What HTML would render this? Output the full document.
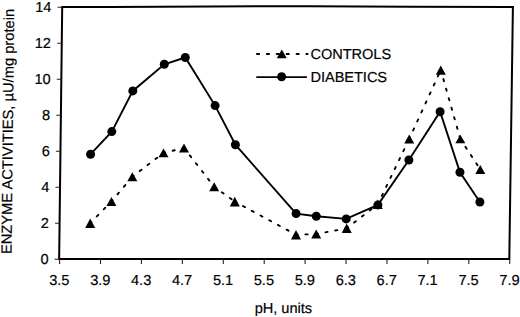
<!DOCTYPE html>
<html><head><meta charset="utf-8"><style>
html,body{margin:0;padding:0;background:#fff;}
body{width:520px;height:317px;overflow:hidden;font-family:"Liberation Sans",sans-serif;}
svg{display:block;}
</style></head><body>
<svg width="520" height="317" viewBox="0 0 520 317">
<rect width="520" height="317" fill="#fff"/>
<g stroke="#000" stroke-width="2.0" fill="none" stroke-linecap="square">
<path d="M62.2,7.0 L110,6.9 L210,6.4 L310,6.15 L410,6.8 L512.9,7.0 L509.3,258.9 L59.15,258.9 Z"/>
</g>
<path d="M59.60,259V264 M100.52,259V264 M141.44,259V264 M182.36,259V264 M223.28,259V264 M264.20,259V264 M305.12,259V264 M346.04,259V264 M386.96,259V264 M427.88,259V264 M468.80,259V264 M509.72,259V264 M54.60,259.20H59.20 M55.03,223.20H59.63 M55.46,187.20H60.06 M55.89,151.20H60.49 M56.31,115.20H60.91 M56.74,79.20H61.34 M57.17,43.20H61.77 M57.60,7.20H62.20" stroke="#222" stroke-width="1.1" fill="none"/>
<path fill="none" stroke="#000" stroke-width="1.9" stroke-dasharray="2.2 7.7" stroke-dashoffset="0.5" stroke-linecap="round" d="M90.20,223.15L111.40,201.50 M111.40,201.50L132.30,176.80 M132.30,176.80L163.50,152.90 M163.50,152.90L184.00,148.00 M184.00,148.00L214.20,186.70 M214.20,186.70L234.80,201.60 M234.80,201.60L296.00,234.75 M296.00,234.75L316.20,234.05 M316.20,234.05L346.70,228.35 M346.70,228.35L377.80,204.25 M377.80,204.25L409.20,138.97 M409.20,138.97L440.80,70.05 M440.80,70.05L460.30,139.00 M460.30,139.00L480.30,169.40"/>
<polyline fill="none" stroke="#000" stroke-width="1.90" points="90.60,154.20 111.80,131.60 132.80,90.90 164.30,64.30 185.30,57.50 215.10,105.60 235.40,144.70 296.10,213.60 316.30,216.20 346.20,218.90 377.90,204.90 408.90,160.00 440.10,111.80 459.95,172.30 479.90,202.00"/>
<g fill="#000">
<path d="M90.20,218.40L95.20,227.90L85.20,227.90Z"/>
<path d="M111.40,197.10L116.40,205.90L106.40,205.90Z"/>
<path d="M132.30,172.30L137.30,181.30L127.30,181.30Z"/>
<path d="M163.50,148.50L168.50,157.30L158.50,157.30Z"/>
<path d="M184.00,143.50L189.00,152.50L179.00,152.50Z"/>
<path d="M214.20,182.20L219.20,191.20L209.20,191.20Z"/>
<path d="M234.80,196.80L239.80,206.40L229.80,206.40Z"/>
<path d="M296.00,229.90L301.00,239.60L291.00,239.60Z"/>
<path d="M316.20,229.50L321.20,238.60L311.20,238.60Z"/>
<path d="M346.70,223.60L351.70,233.10L341.70,233.10Z"/>
<path d="M377.80,199.50L382.80,209.00L372.80,209.00Z"/>
<path d="M409.20,134.50L414.20,143.45L404.20,143.45Z"/>
<path d="M440.80,65.40L445.80,74.70L435.80,74.70Z"/>
<path d="M460.30,134.70L465.30,143.30L455.30,143.30Z"/>
<path d="M480.30,164.90L485.30,173.90L475.30,173.90Z"/>
<circle cx="90.60" cy="154.20" r="4.5"/>
<circle cx="111.80" cy="131.60" r="4.5"/>
<circle cx="132.80" cy="90.90" r="4.5"/>
<circle cx="164.30" cy="64.30" r="4.5"/>
<circle cx="185.30" cy="57.50" r="4.5"/>
<circle cx="215.10" cy="105.60" r="4.5"/>
<circle cx="235.40" cy="144.70" r="4.5"/>
<circle cx="296.10" cy="213.60" r="4.5"/>
<circle cx="316.30" cy="216.20" r="4.5"/>
<circle cx="346.20" cy="218.90" r="4.5"/>
<circle cx="377.90" cy="204.90" r="4.5"/>
<circle cx="408.90" cy="160.00" r="4.5"/>
<circle cx="440.10" cy="111.80" r="4.5"/>
<circle cx="459.95" cy="172.30" r="4.5"/>
<circle cx="479.90" cy="202.00" r="4.5"/>
</g>
<line x1="256.95" y1="54" x2="307.6" y2="54" stroke="#000" stroke-width="1.9" stroke-dasharray="2.2 7.7" stroke-linecap="round"/>
<path d="M281.80,49.50L286.80,58.20L276.80,58.20Z" fill="#000"/>
<line x1="256.3" y1="77.1" x2="306.9" y2="77.1" stroke="#000" stroke-width="1.9"/>
<circle cx="281.6" cy="76.8" r="4.5" fill="#000"/>
<g font-family="Liberation Sans, sans-serif" font-size="14.5" fill="#000" stroke="#000" stroke-width="0.2" transform="matrix(1,0,-0.011,1,2.849,0)">
<text x="48.60" y="263.60" text-anchor="end">0</text>
<text x="48.60" y="227.60" text-anchor="end">2</text>
<text x="48.60" y="191.60" text-anchor="end">4</text>
<text x="48.60" y="155.60" text-anchor="end">6</text>
<text x="48.60" y="119.60" text-anchor="end">8</text>
<text x="48.60" y="83.60" text-anchor="end">10</text>
<text x="48.60" y="47.60" text-anchor="end">12</text>
<text x="48.60" y="11.60" text-anchor="end">14</text>
<text x="59.60" y="285.5" text-anchor="middle">3.5</text>
<text x="100.52" y="285.5" text-anchor="middle">3.9</text>
<text x="141.44" y="285.5" text-anchor="middle">4.3</text>
<text x="182.36" y="285.5" text-anchor="middle">4.7</text>
<text x="223.28" y="285.5" text-anchor="middle">5.1</text>
<text x="264.20" y="285.5" text-anchor="middle">5.5</text>
<text x="305.12" y="285.5" text-anchor="middle">5.9</text>
<text x="346.04" y="285.5" text-anchor="middle">6.3</text>
<text x="386.96" y="285.5" text-anchor="middle">6.7</text>
<text x="427.88" y="285.5" text-anchor="middle">7.1</text>
<text x="468.80" y="285.5" text-anchor="middle">7.5</text>
<text x="509.72" y="285.5" text-anchor="middle">7.9</text>
<text x="255.38" y="312.9">pH, units</text>
<text x="308.30" y="59">CONTROLS</text>
<text x="308.55" y="82">DIABETICS</text>
<text transform="translate(11.40,131.5) rotate(-90)" x="0" y="0" text-anchor="middle" font-size="14.7">ENZYME ACTIVITIES, µU/mg protein</text>
</g>
</svg>
</body></html>
